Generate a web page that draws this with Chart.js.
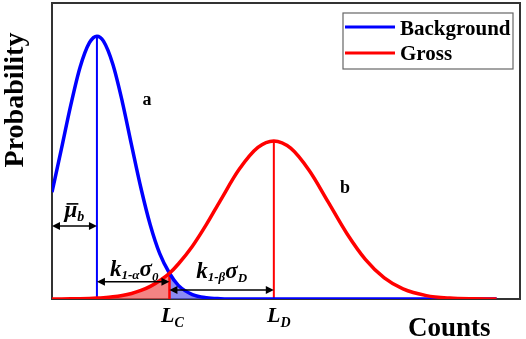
<!DOCTYPE html>
<html>
<head>
<meta charset="utf-8">
<script src="https://cdn.jsdelivr.net/npm/chart.js@4.4.1/dist/chart.umd.min.js"></script>
<style>
  html, body { margin: 0; padding: 0; background: #fff; }
  #wrap { width: 526px; height: 339px; }
</style>
</head>
<body>
<div id="wrap"><canvas id="probChart" width="526" height="339"></canvas></div>
<script>
// counts axis samples and the two distributions
const counts = [0, 2, 4, 6, 8, 9.6, 11, 13, 15, 17, 19, 21, 23, 25.1, 27, 30, 33, 36, 40, 44, 47.4, 51, 55, 59, 63, 67, 71, 75, 80, 85, 90, 95];
const background = [0.361, 0.506, 0.654, 0.783, 0.866, 0.888, 0.871, 0.793, 0.668, 0.520, 0.375, 0.250, 0.154, 0.087, 0.046, 0.015, 0.004, 0.001, 0, 0, 0, 0, 0, 0, 0, 0, 0, 0, 0, 0, 0, 0];
const gross = [0.0002, 0.0003, 0.0006, 0.0011, 0.0019, 0.003, 0.0044, 0.0073, 0.0119, 0.0188, 0.0288, 0.0428, 0.0618, 0.087, 0.1183, 0.1783, 0.252, 0.3335, 0.438, 0.512, 0.534, 0.5095, 0.4332, 0.328, 0.2212, 0.1328, 0.071, 0.0339, 0.0114, 0.0032, 0.0007, 0.0001];
const seriesLabels = ['Background', 'Gross'];

// key points on the counts axis
const meanB = 9.6;   // mean of background
const lc = 25.1;     // critical level L_C
const meanG = 47.4;  // detection limit L_D

// heights of the dimension arrows (probability units)
const muArrowY = 0.247;
const kaArrowY = 0.058;
const kbArrowY = 0.030;

const BLUE = '#0000ff';
const RED = '#ff0000';
const SERIF = '"Liberation Serif", "Times New Roman", serif';

const toXY = (xs, ys) => xs.map((x, i) => ({ x: x, y: ys[i] }));
const slice = (ys, from, to) => counts.map((x, i) => ({ x: x, y: ys[i] })).filter(p => p.x >= from && p.x <= to);

const bgPeak = background[counts.indexOf(meanB)];
const grPeak = gross[counts.indexOf(meanG)];
const lcVal = gross[counts.indexOf(lc)];

function drawArrow(ctx, x1, x2, y) {
  ctx.save();
  ctx.strokeStyle = '#000';
  ctx.fillStyle = '#000';
  ctx.lineWidth = 1.5;
  ctx.beginPath();
  ctx.moveTo(x1 + 3, y);
  ctx.lineTo(x2 - 3, y);
  ctx.stroke();
  [[x1, 1], [x2, -1]].forEach(([x, dir]) => {
    ctx.beginPath();
    ctx.moveTo(x, y);
    ctx.lineTo(x + dir * 8, y - 4);
    ctx.lineTo(x + dir * 8, y + 4);
    ctx.closePath();
    ctx.fill();
  });
  ctx.restore();
}

// parts: [text, size, baseline shift]
function drawMath(ctx, parts, cx, y) {
  ctx.save();
  ctx.fillStyle = '#000';
  ctx.textBaseline = 'alphabetic';
  ctx.textAlign = 'left';
  let w = 0;
  parts.forEach(p => {
    ctx.font = 'italic bold ' + p[1] + 'px ' + SERIF;
    p.w = ctx.measureText(p[0]).width;
    w += p.w;
  });
  let x = cx - w / 2;
  const boxes = [];
  parts.forEach(p => {
    ctx.font = 'italic bold ' + p[1] + 'px ' + SERIF;
    ctx.fillText(p[0], x, y + p[2]);
    boxes.push({ x: x, w: p.w });
    x += p.w;
  });
  ctx.restore();
  return boxes;
}

const annotations = {
  id: 'annotations',
  beforeDatasetsDraw(chart) {
    const { ctx, chartArea: a } = chart;
    ctx.save();
    ctx.strokeStyle = '#333';
    ctx.lineWidth = 2;
    ctx.strokeRect(a.left, a.top, a.right - a.left, a.bottom - a.top);
    ctx.restore();
  },
  afterDraw(chart) {
    const { ctx, chartArea: a } = chart;
    const xs = chart.scales.x, ys = chart.scales.y;
    const px = v => xs.getPixelForValue(v);
    const py = v => ys.getPixelForValue(v);

    // dimension arrows
    drawArrow(ctx, px(0), px(meanB), py(muArrowY));
    drawArrow(ctx, px(meanB), px(lc), py(kaArrowY));
    drawArrow(ctx, px(lc), px(meanG), py(kbArrowY));

    // mu_b with overline
    const mb = drawMath(ctx, [['\u03bc', 23, 0], ['b', 14, 4]], (px(0) + px(meanB)) / 2, py(muArrowY) - 9);
    ctx.save();
    ctx.strokeStyle = '#000';
    ctx.lineWidth = 1.6;
    ctx.beginPath();
    ctx.moveTo(mb[0].x + 2, py(muArrowY) - 22);
    ctx.lineTo(mb[0].x + mb[0].w + 1, py(muArrowY) - 22);
    ctx.stroke();
    ctx.restore();

    drawMath(ctx, [['k', 23, 0], ['1-\u03b1', 13, 3], ['\u03c3', 23, 0], ['0', 13, 5]], (px(meanB) + px(lc)) / 2 + 1, py(kaArrowY) - 6);
    drawMath(ctx, [['k', 23, 0], ['1-\u03b2', 13, 3], ['\u03c3', 23, 0], ['D', 13, 4]], (px(lc) + px(meanG)) / 2, py(kbArrowY) - 12);

    drawMath(ctx, [['L', 22, 0], ['C', 14, 5]], px(lc) + 3, a.bottom + 23);
    drawMath(ctx, [['L', 22, 0], ['D', 14, 5]], px(meanG) + 5, a.bottom + 23);

    ctx.save();
    ctx.fillStyle = '#000';
    ctx.font = 'bold 18px ' + SERIF;
    ctx.textAlign = 'center';
    ctx.textBaseline = 'middle';
    ctx.fillText('a', 147, 100);
    ctx.fillText('b', 345, 188);

    // axis titles
    ctx.font = 'bold 27px ' + SERIF;
    ctx.textAlign = 'left';
    ctx.textBaseline = 'alphabetic';
    ctx.fillText('Counts', 408, 336);
    ctx.font = 'bold 28px ' + SERIF;
    ctx.translate(23, 100);
    ctx.rotate(-Math.PI / 2);
    ctx.textAlign = 'center';
    ctx.fillText('Probability', 0, 0);
    ctx.restore();

    // legend box
    ctx.save();
    ctx.fillStyle = '#fff';
    ctx.fillRect(343, 13, 170, 56);
    ctx.strokeStyle = '#666';
    ctx.lineWidth = 1.2;
    ctx.strokeRect(343, 13, 170, 56);
    [[BLUE, 27, 35], [RED, 53, 60]].forEach(([c, ly, ty], i) => {
      ctx.strokeStyle = c;
      ctx.lineWidth = 3;
      ctx.beginPath();
      ctx.moveTo(345, ly);
      ctx.lineTo(395, ly);
      ctx.stroke();
      ctx.fillStyle = '#000';
      ctx.font = 'bold 21px ' + SERIF;
      ctx.fillText(seriesLabels[i], 400, ty);
    });
    ctx.restore();
  }
};

const curve = { pointRadius: 0, cubicInterpolationMode: 'monotone', fill: false };

new Chart(document.getElementById('probChart').getContext('2d'), {
  type: 'line',
  data: {
    datasets: [
      Object.assign({ label: seriesLabels[1], data: toXY(counts, gross), borderColor: RED, borderWidth: 3.5, order: 1 }, curve),
      Object.assign({ label: seriesLabels[0], data: toXY(counts, background), borderColor: BLUE, borderWidth: 3.5, order: 2 }, curve),
      { label: 'mean b', data: [{ x: meanB, y: 0 }, { x: meanB, y: bgPeak }], borderColor: BLUE, borderWidth: 2, pointRadius: 0, order: 3 },
      { label: 'LD', data: [{ x: meanG, y: 0 }, { x: meanG, y: grPeak }], borderColor: RED, borderWidth: 2, pointRadius: 0, order: 3 },
      { label: 'LC', data: [{ x: lc, y: 0 }, { x: lc, y: lcVal }], borderColor: RED, borderWidth: 2.5, pointRadius: 0, order: 3 },
      { label: 'alpha', data: slice(gross, meanB, lc), borderWidth: 0, pointRadius: 0, cubicInterpolationMode: 'monotone', fill: 'origin', backgroundColor: 'rgba(240, 80, 80, 0.7)', order: 5 },
      { label: 'beta', data: slice(background, lc, 95), borderWidth: 0, pointRadius: 0, cubicInterpolationMode: 'monotone', fill: 'origin', backgroundColor: 'rgba(90, 90, 240, 0.7)', order: 5 }
    ]
  },
  options: {
    responsive: false,
    animation: false,
    devicePixelRatio: 1,
    layout: { padding: { left: 52, top: 3, right: 6, bottom: 40 } },
    plugins: { legend: { display: false }, tooltip: { enabled: false } },
    scales: {
      x: { type: 'linear', min: 0, max: 100, display: false },
      y: { min: 0, max: 1, display: false }
    }
  },
  plugins: [annotations]
});
</script>
</body>
</html>
